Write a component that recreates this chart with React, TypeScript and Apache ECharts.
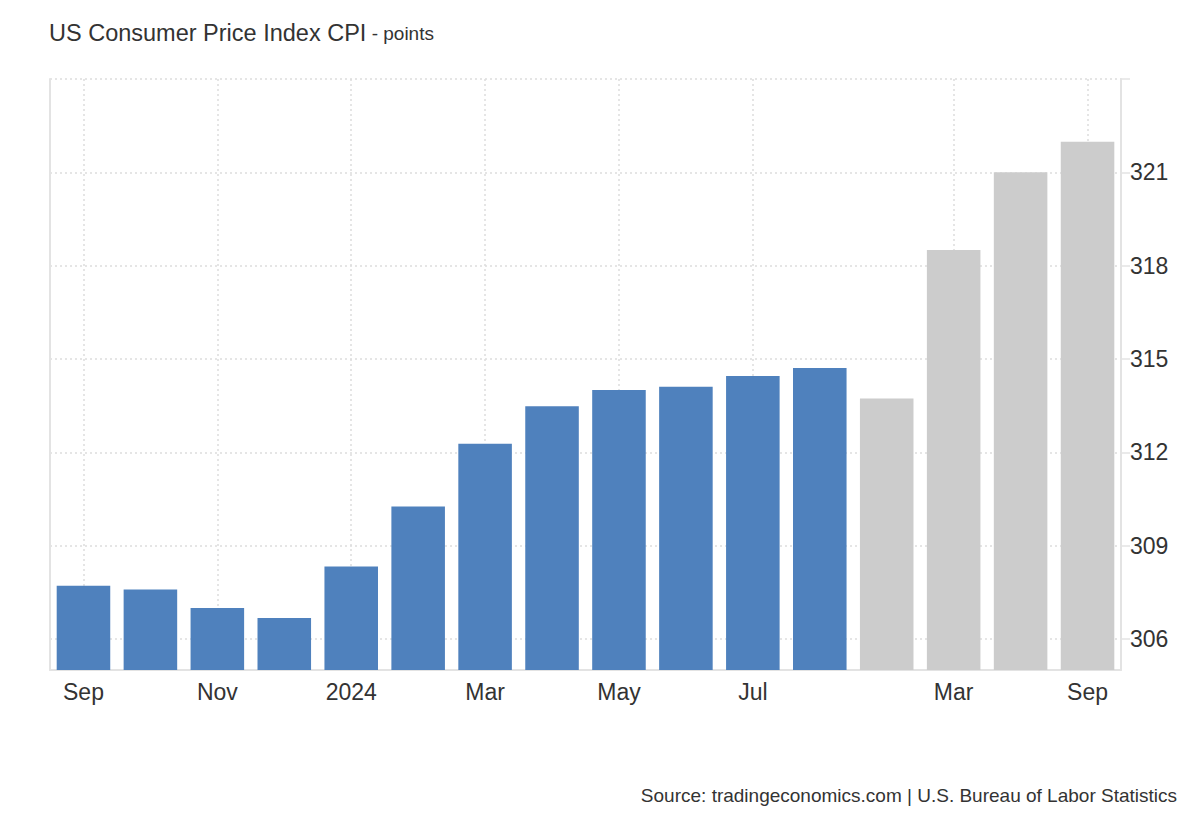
import React, { useEffect, useRef } from "react";
import * as echarts from "echarts";

const categories = [
  "Sep 2023", "Oct 2023", "Nov 2023", "Dec 2023", "Jan 2024", "Feb 2024",
  "Mar 2024", "Apr 2024", "May 2024", "Jun 2024", "Jul 2024", "Aug 2024",
  "Dec 2024", "Mar 2025", "Jun 2025", "Sep 2025",
];
const tickLabels = [
  "Sep", "", "Nov", "", "2024", "", "Mar", "", "May", "", "Jul", "",
  "", "Mar", "", "Sep",
];
const actualValues = [
  307.71, 307.59, 306.99, 306.67, 308.33, 310.26, 312.27, 313.48, 314.0,
  314.11, 314.45, 314.71,
];
const forecastValues = [313.73, 318.5, 321.0, 321.98];
const yTicks = [306, 309, 312, 315, 318, 321, 324];
const yLabels = [306, 309, 312, 315, 318, 321];

export default function App() {
  const ref = useRef<HTMLDivElement>(null);
  useEffect(() => {
    document.body.style.margin = "0";
    if (!ref.current) return;
    const chart = echarts.init(ref.current, null, { renderer: "svg" });
    const font = "'Liberation Sans', Arial, sans-serif";
    const data = [
      ...actualValues.map((v) => ({ value: v, itemStyle: { color: "#4f81bd" } })),
      ...forecastValues.map((v) => ({ value: v, itemStyle: { color: "#cccccc" } })),
    ];
    chart.setOption({
      animation: false,
      textStyle: { fontFamily: font },
      title: [
        {
          text: "{a|US Consumer Price Index CPI}{b| - points}",
          left: 44,
          top: 16,
          textStyle: {
            fontWeight: "normal",
            rich: {
              a: { fontSize: 23.5, color: "#333", fontFamily: font, fontWeight: "normal" },
              b: { fontSize: 19, color: "#333", fontFamily: font, fontWeight: "normal" },
            },
          },
        },
        {
          text: "Source: tradingeconomics.com | U.S. Bureau of Labor Statistics",
          right: 18,
          top: 781,
          textStyle: { fontSize: 19, fontWeight: "normal", color: "#333", fontFamily: font },
        },
      ],
      grid: { left: 50, right: 79, top: 79, bottom: 150 },
      xAxis: {
        type: "category",
        data: categories,
        boundaryGap: true,
        axisLine: { show: true, lineStyle: { color: "#e3e3e3", width: 2 } },
        axisTick: { show: false },
        axisLabel: {
          interval: 0,
          margin: 10,
          fontSize: 23,
          color: "#333",
          fontFamily: font,
          formatter: (_v: string, i: number) => tickLabels[i],
        },
        splitLine: {
          show: true,
          alignWithLabel: true,
          interval: (i: number) => tickLabels[i] !== "",
          lineStyle: { color: "#dddddd", type: [2, 3], width: 1.5 },
        },
      },
      yAxis: [
        {
          type: "value",
          position: "right",
          min: 305,
          max: 324,
          axisLine: { show: true, lineStyle: { color: "#e3e3e3", width: 2 } },
          axisTick: {
            show: true,
            length: 9,
            customValues: yTicks,
            lineStyle: { color: "#e3e3e3", width: 1.5 },
          },
          axisLabel: {
            customValues: yLabels,
            margin: 9,
            fontSize: 23,
            color: "#333",
            fontFamily: font,
          },
          splitLine: {
            show: true,
            lineStyle: { color: "#dddddd", type: [2, 3], width: 1.5 },
          },
        },
        {
          type: "value",
          position: "left",
          min: 305,
          max: 324,
          axisLine: { show: true, lineStyle: { color: "#e3e3e3", width: 2 } },
          axisTick: { show: false },
          axisLabel: { show: false },
          splitLine: { show: false },
        },
      ],
      series: [
        {
          type: "bar",
          yAxisIndex: 0,
          data,
          barCategoryGap: "20%",
        },
      ],
    });
    return () => chart.dispose();
  }, []);
  return <div ref={ref} style={{ width: 1200, height: 820 }} />;
}
